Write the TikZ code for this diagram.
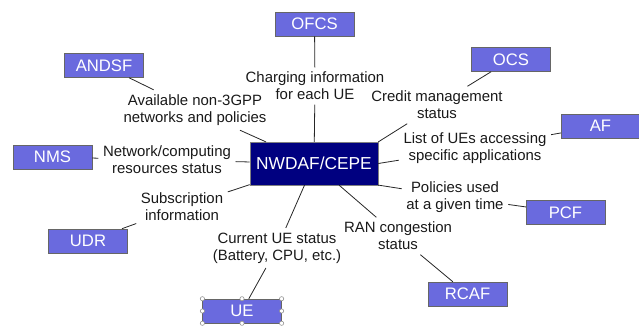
\documentclass[tikz,border=0pt]{standalone}
\usepackage{fontspec}
\setmainfont{Liberation Sans}
\usetikzlibrary{positioning,calc}
\definecolor{boxblue}{RGB}{106,106,222}
\definecolor{navyfill}{RGB}{0,0,128}
\begin{document}
\begin{tikzpicture}[x=0.75pt,y=-0.75pt,
    fnbox/.style={draw=black!60,fill=boxblue,text=white,minimum width=59pt,minimum height=18pt,
        inner sep=0pt,font=\fontsize{12.5}{14}\selectfont},
    infolabel/.style={align=center,text=black!90,font=\fontsize{11.2}{12.8}\selectfont},
    link/.style={black!85,line width=0.6pt},
    handle/.style={draw=black!45,fill=white,line width=0.4pt}]
    \useasboundingbox (0,0) rectangle (639,325);
    % central function
    \node[draw=black!50,fill=navyfill,text=white,minimum width=96pt,minimum height=32pt,inner sep=0pt,
        font=\fontsize{13}{15}\selectfont] (nwdaf) at (314,163.5) {NWDAF/CEPE};
    % data sources
    \node[fnbox] (ofcs) at (314.5,24) {OFCS};
    \node[fnbox] (andsf) at (104,65.5) {ANDSF};
    \node[fnbox] (ocs) at (511,59.5) {OCS};
    \node[fnbox] (af) at (600.5,126) {AF};
    \node[fnbox] (nms) at (52.5,157) {NMS};
    \node[fnbox] (udr) at (88,241) {UDR};
    \node[fnbox] (pcf) at (565.5,212.5) {PCF};
    \node[fnbox] (rcaf) at (467.5,294) {RCAF};
    \node[fnbox] (ue) at (242,311) {UE};
    % what each one provides
    \node[infolabel] (charging) at (315,86) {Charging information\\for each UE};
    \node[infolabel] (nonthreegpp) at (195,110) {Available non-3GPP\\networks and policies};
    \node[infolabel] (credit) at (437,105) {Credit management\\status};
    \node[infolabel] (ueslist) at (475,148) {List of UEs accessing\\specific applications};
    \node[infolabel] (netstatus) at (167,160) {Network/computing\\resources status};
    \node[infolabel] (subscr) at (182,207) {Subscription\\information};
    \node[infolabel] (policies) at (455,197) {Policies used\\at a given time};
    \node[infolabel] (ranstatus) at (398,236) {RAN congestion\\status};
    \node[infolabel] (uestatus) at (277,248) {Current UE status\\(Battery, CPU, etc.)};
    % connectors
    \draw[link] (ofcs) -- (charging) (charging) -- (nwdaf);
    \draw[link] (andsf) -- (nonthreegpp) (nonthreegpp) -- (nwdaf);
    \draw[link] (ocs) -- (credit) (credit) -- (nwdaf.north east);
    \draw[link] (af) -- (ueslist) (ueslist) -- (nwdaf.east);
    \draw[link] (nms) -- (netstatus) (netstatus) -- (nwdaf);
    \draw[link] (udr) -- (subscr) (subscr) -- (nwdaf);
    \draw[link] (pcf) -- (policies) (policies) -- (nwdaf.south east);
    \draw[link] (rcaf) -- (ranstatus) (ranstatus) -- (nwdaf);
    \draw[link] (ue) -- (uestatus) (uestatus) -- (nwdaf);
    % selection handles on UE
    \foreach \a in {north west,north,north east,west,east,south west,south,south east}
        \draw[handle] (ue.\a) circle (1.6pt);
\end{tikzpicture}
\end{document}
